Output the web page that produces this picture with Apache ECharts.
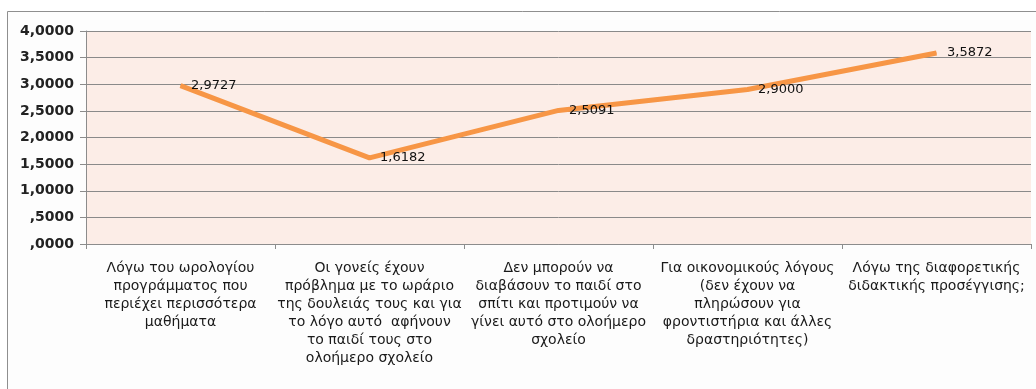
<!DOCTYPE html>
<html>
<head>
<meta charset="utf-8">
<script src="https://cdn.jsdelivr.net/npm/echarts@6/dist/echarts.min.js"></script>
<style>
  html, body { margin: 0; padding: 0; background: #ffffff; }
  #chart { width: 1036px; height: 389px; }
</style>
</head>
<body>
<div id="chart"></div>
<script>
// Reasons for choosing the all-day school (mean scores)
const categories = [
  'Λόγω του ωρολογίου\nπρογράμματος που\nπεριέχει περισσότερα\nμαθήματα',
  'Οι γονείς έχουν\nπρόβλημα με το ωράριο\nτης δουλειάς τους και για\nτο λόγο αυτό  αφήνουν\nτο παιδί τους στο\nολοήμερο σχολείο',
  'Δεν μπορούν να\nδιαβάσουν το παιδί στο\nσπίτι και προτιμούν να\nγίνει αυτό στο ολοήμερο\nσχολείο',
  'Για οικονομικούς λόγους\n(δεν έχουν να\nπληρώσουν για\nφροντιστήρια και άλλες\nδραστηριότητες)',
  'Λόγω της διαφορετικής\nδιδακτικής προσέγγισης;'
];
const meanScores = [2.9727, 1.6182, 2.5091, 2.9000, 3.5872];
const yTickLabels = [',0000', ',5000', '1,0000', '1,5000', '2,0000', '2,5000', '3,0000', '3,5000', '4,0000'];

// Greek-style decimal comma, four decimals
function fmtComma(v) {
  return v.toFixed(4).replace('.', ',');
}

const chart = echarts.init(document.getElementById('chart'), null, { renderer: 'canvas' });

chart.setOption({
  animation: false,
  backgroundColor: '#ffffff',
  graphic: [{
    type: 'rect',
    left: 7, top: 11,
    shape: { width: 1060, height: 420 },
    style: { fill: '#fdfdfd', stroke: '#8f8f8f', lineWidth: 1 },
    z: -10
  }],
  grid: {
    left: 86, right: 5, top: 31, bottom: 145,
    show: true,
    backgroundColor: '#fcede7',
    borderWidth: 0
  },
  xAxis: {
    type: 'category',
    data: categories,
    boundaryGap: true,
    axisLine: { lineStyle: { color: '#8c8c8c', width: 1 } },
    axisTick: { show: true, length: 5, lineStyle: { color: '#8c8c8c' } },
    axisLabel: {
      interval: 0,
      margin: 15,
      fontFamily: 'DejaVu Sans',
      fontSize: 14,
      lineHeight: 18,
      color: '#1a1a1a',
      align: 'center'
    }
  },
  yAxis: {
    type: 'value',
    min: 0, max: 4, interval: 0.5,
    axisLine: { show: true, lineStyle: { color: '#8c8c8c', width: 1 } },
    axisTick: { show: true, length: 6, lineStyle: { color: '#8c8c8c' } },
    splitLine: { show: true, lineStyle: { color: '#8a8a8a', width: 1 } },
    axisLabel: {
      margin: 12,
      fontFamily: 'DejaVu Sans',
      fontSize: 14,
      fontWeight: 'bold',
      color: '#222222',
      formatter: function (v, i) { return yTickLabels[i] !== undefined ? yTickLabels[i] : fmtComma(v); }
    }
  },
  series: [{
    type: 'line',
    data: meanScores,
    symbol: 'circle',
    symbolSize: 1,
    itemStyle: { color: '#f79646' },
    lineStyle: { color: '#f79646', width: 5 },
    label: {
      show: true,
      position: 'right',
      distance: 10,
      fontFamily: 'DejaVu Sans',
      fontSize: 13,
      color: '#111111',
      formatter: function (p) { return fmtComma(p.value); }
    }
  }]
});
</script>
</body>
</html>
